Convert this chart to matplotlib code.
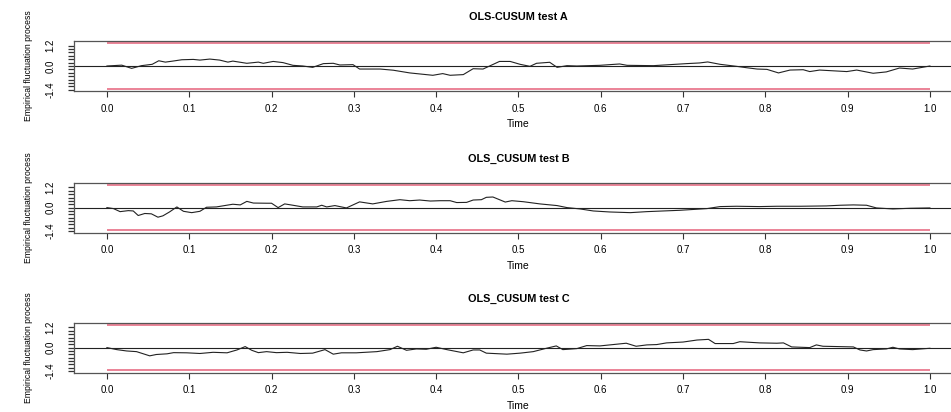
import numpy as np
import matplotlib
matplotlib.use("Agg")
import matplotlib.pyplot as plt

plt.rcParams['font.family'] = ['Liberation Sans', 'DejaVu Sans']

# OLS-CUSUM empirical fluctuation processes (time in [0, 1])
time_a = [0.0, 0.018, 0.03, 0.042, 0.055, 0.063, 0.071, 0.08, 0.091, 0.105, 0.113, 0.125,
          0.137, 0.147, 0.153, 0.17, 0.184, 0.19, 0.202, 0.214, 0.226, 0.238, 0.25, 0.263,
          0.275, 0.283, 0.299, 0.307, 0.332, 0.348, 0.368, 0.396, 0.408, 0.417, 0.433,
          0.445, 0.457, 0.477, 0.49, 0.502, 0.514, 0.522, 0.538, 0.547, 0.559, 0.571,
          0.599, 0.623, 0.632, 0.664, 0.704, 0.72, 0.73, 0.745, 0.765, 0.777, 0.79, 0.802,
          0.816, 0.83, 0.846, 0.854, 0.866, 0.899, 0.911, 0.931, 0.947, 0.963, 0.979, 1.0]
fluct_a = [0.0, 0.05, -0.14, 0.02, 0.10, 0.31, 0.23, 0.29, 0.37, 0.39, 0.35, 0.41,
           0.35, 0.23, 0.29, 0.16, 0.23, 0.16, 0.27, 0.20, 0.04, 0.0, -0.08, 0.14,
           0.16, 0.06, 0.08, -0.18, -0.18, -0.25, -0.41, -0.55, -0.45, -0.55, -0.51,
           -0.16, -0.18, 0.27, 0.27, 0.10, -0.02, 0.16, 0.22, -0.08, 0.02, 0.0,
           0.04, 0.12, 0.04, 0.02, 0.14, 0.18, 0.24, 0.10, -0.02, -0.10, -0.18, -0.20,
           -0.41, -0.24, -0.22, -0.33, -0.24, -0.33, -0.24, -0.43, -0.35, -0.12, -0.18, 0.0]

time_b = [0.0, 0.008, 0.016, 0.026, 0.032, 0.038, 0.046, 0.054, 0.062, 0.068, 0.076,
          0.085, 0.093, 0.103, 0.113, 0.121, 0.133, 0.153, 0.162, 0.17, 0.178, 0.194,
          0.2, 0.208, 0.216, 0.226, 0.238, 0.255, 0.261, 0.267, 0.277, 0.291, 0.307,
          0.323, 0.34, 0.356, 0.368, 0.38, 0.393, 0.405, 0.417, 0.425, 0.437, 0.445,
          0.455, 0.461, 0.469, 0.484, 0.492, 0.506, 0.526, 0.547, 0.559, 0.575, 0.591,
          0.611, 0.636, 0.656, 0.696, 0.729, 0.745, 0.765, 0.793, 0.814, 0.842, 0.874,
          0.891, 0.907, 0.923, 0.935, 0.955, 0.976, 1.0]
fluct_b = [0.0, -0.06, -0.24, -0.18, -0.20, -0.47, -0.35, -0.37, -0.57, -0.49, -0.26,
           0.04, -0.22, -0.30, -0.22, 0.02, 0.04, 0.20, 0.16, 0.37, 0.27, 0.26,
           0.26, 0.0, 0.22, 0.14, 0.04, 0.04, 0.14, 0.04, 0.12, -0.02, 0.34,
           0.22, 0.37, 0.47, 0.41, 0.45, 0.39, 0.41, 0.41, 0.30, 0.31, 0.45,
           0.47, 0.61, 0.63, 0.33, 0.41, 0.35, 0.22, 0.12, 0.0, -0.08, -0.20,
           -0.26, -0.30, -0.24, -0.16, -0.06, 0.06, 0.08, 0.06, 0.08, 0.08, 0.10,
           0.14, 0.16, 0.14, -0.02, -0.08, -0.04, -0.02]

time_c = [0.0, 0.012, 0.024, 0.036, 0.052, 0.06, 0.073, 0.081, 0.097, 0.113, 0.129,
          0.146, 0.158, 0.168, 0.176, 0.184, 0.194, 0.206, 0.219, 0.235, 0.25, 0.265,
          0.275, 0.285, 0.303, 0.328, 0.344, 0.353, 0.364, 0.376, 0.388, 0.4, 0.413,
          0.433, 0.445, 0.453, 0.461, 0.486, 0.502, 0.518, 0.534, 0.546, 0.554, 0.571,
          0.583, 0.599, 0.615, 0.631, 0.643, 0.656, 0.668, 0.68, 0.7, 0.717, 0.731,
          0.739, 0.761, 0.769, 0.793, 0.814, 0.822, 0.832, 0.854, 0.862, 0.87, 0.907,
          0.915, 0.923, 0.931, 0.947, 0.955, 0.963, 0.979, 1.0]
fluct_c = [0.0, -0.12, -0.20, -0.24, -0.49, -0.41, -0.37, -0.30, -0.31, -0.35, -0.28,
           -0.31, -0.14, 0.06, -0.16, -0.30, -0.24, -0.30, -0.28, -0.35, -0.33, -0.12,
           -0.39, -0.31, -0.31, -0.24, -0.12, 0.08, -0.16, -0.08, -0.10, 0.02, -0.12,
           -0.31, -0.14, -0.14, -0.33, -0.39, -0.33, -0.24, -0.04, 0.10, -0.12, -0.06,
           0.12, 0.10, 0.18, 0.26, 0.08, 0.16, 0.18, 0.28, 0.33, 0.45, 0.49,
           0.24, 0.24, 0.35, 0.28, 0.26, 0.28, 0.04, 0.0, 0.16, 0.08, 0.04,
           -0.14, -0.20, -0.12, -0.08, 0.02, -0.08, -0.12, -0.04]

titles = ["OLS-CUSUM test A", "OLS_CUSUM test B", "OLS_CUSUM test C"]
boundary = 1.358
x_ticks = [0.0, 0.1, 0.2, 0.3, 0.4, 0.5, 0.6, 0.7, 0.8, 0.9, 1.0]
y_ticks = [-1.4, -1.2, -1.0, -0.8, -0.6, -0.4, -0.2, 0.0, 0.2, 0.4, 0.6, 0.8, 1.0, 1.2]
y_labelled = [-1.4, 0.0, 1.2]

series = [(time_a, fluct_a), (time_b, fluct_b), (time_c, fluct_c)]

W, H = 951, 412
fig = plt.figure(figsize=(W / 100, H / 100), dpi=100)

# panel top/bottom edges in pixels
panels_px = [(41, 91), (182.7, 232.5), (322.7, 372.5)]
left_px = 74
width_px = 1.08 * 823

boundary_color = "#E9798F"
spine_color = "#555555"

for (top, bottom), (t, f), title in zip(panels_px, series, titles):
    ax = fig.add_axes([left_px / W, 1 - bottom / H, width_px / W, (bottom - top) / H])
    ax.set_xlim(-0.04, 1.04)
    ax.set_ylim(-1.48, 1.48)

    ax.plot([0, 1], [boundary, boundary], color=boundary_color, lw=1.3, solid_capstyle="butt")
    ax.plot([0, 1], [-boundary, -boundary], color=boundary_color, lw=1.3, solid_capstyle="butt")
    ax.axhline(0, color="#222222", lw=0.8)
    ax.plot(t, f, color="#222222", lw=0.8)

    for side in ("left", "top", "bottom"):
        ax.spines[side].set_color(spine_color)
        ax.spines[side].set_linewidth(0.9)
    ax.spines["right"].set_visible(False)

    ax.set_xticks(x_ticks)
    ax.set_xticklabels([f"{v:.1f}" for v in x_ticks], fontsize=7)
    ax.set_yticks(y_ticks)
    ax.set_yticklabels([f"{v:.1f}" if round(v, 1) in y_labelled else "" for v in y_ticks],
                       fontsize=7, rotation=90, va="center")
    ax.tick_params(axis="x", length=4, width=0.8, pad=5, color="#333333")
    ax.tick_params(axis="y", length=4.5, width=0.9, pad=9, color="#333333")

    ax.set_title(title, fontsize=7.8, fontweight="bold", pad=15)
    ax.set_xlabel("Time", fontsize=7.5, labelpad=4)
    ax.set_ylabel("Empirical fluctuation process", fontsize=6.2,
                  family=["Liberation Sans Narrow", "Liberation Sans", "DejaVu Sans"],
                  labelpad=9)

fig.savefig("out.png", dpi=100)
